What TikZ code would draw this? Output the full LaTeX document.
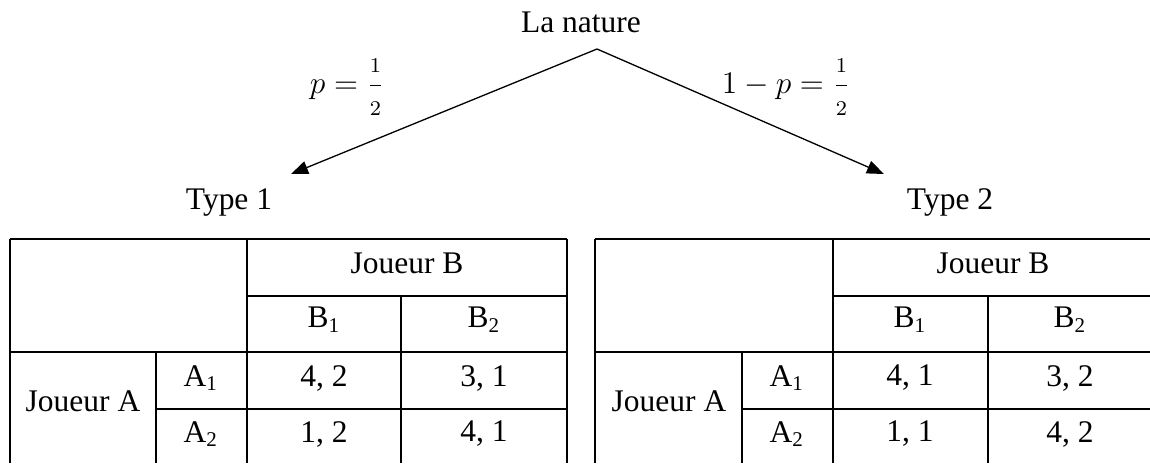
\documentclass[tikz,border=0pt]{standalone}
\usepackage{fontspec}
\setmainfont{Liberation Serif}
\usetikzlibrary{arrows.meta}

\begin{document}
\begin{tikzpicture}[
x=0.0134cm,y=-0.0134cm,
font=\fontsize{12}{14}\selectfont,
grid/.style={line width=0.75pt},
branch/.style={line width=0.5pt,-{Triangle[length=6.5pt,width=5pt]}},
cell/.style={inner sep=0pt,anchor=center}
]

\useasboundingbox (0,0) rectangle (1150,463);

%%%%%%%%%%%%%%%%%%%%%%%%%%%%%%%%%%%%%%%%%%%%%%%%%%%%%%
% NATURE
%%%%%%%%%%%%%%%%%%%%%%%%%%%%%%%%%%%%%%%%%%%%%%%%%%%%%%

\node[cell](nature) at (581,22) {La nature};

\coordinate (apex) at (597,49);
\coordinate (tipone) at (291,174);
\coordinate (tiptwo) at (884,174);

\node[cell](probone) at (347,87)
{$p={\displaystyle\frac{\scriptstyle 1}{\scriptstyle 2}}$};
\node[cell](probtwo) at (786,87)
{$1-p={\displaystyle\frac{\scriptstyle 1}{\scriptstyle 2}}$};

\node[cell](typeone) at (229,202) {Type 1};
\node[cell](typetwo) at (950,202) {Type 2};

%%%%%%%%%%%%%%%%%%%%%%%%%%%%%%%%%%%%%%%%%%%%%%%%%%%%%%
% BRANCHES
%%%%%%%%%%%%%%%%%%%%%%%%%%%%%%%%%%%%%%%%%%%%%%%%%%%%%%

\draw[branch] (apex)--(tipone);

\draw[branch] (apex)--(tiptwo);

%%%%%%%%%%%%%%%%%%%%%%%%%%%%%%%%%%%%%%%%%%%%%%%%%%%%%%
% TABLE TYPE 1
%%%%%%%%%%%%%%%%%%%%%%%%%%%%%%%%%%%%%%%%%%%%%%%%%%%%%%

\draw[grid] (10,239)--(567,239);
\draw[grid] (247,296)--(567,296);
\draw[grid] (10,352)--(567,352);
\draw[grid] (156,409)--(567,409);
\draw[grid] (10,239)--(10,463);
\draw[grid] (156,352)--(156,463);
\draw[grid] (247,239)--(247,463);
\draw[grid] (401,296)--(401,463);
\draw[grid] (567,239)--(567,463);

\node[cell](oneB) at (407,263) {Joueur B};
\node[cell](oneBa) at (324,320) {B\textsubscript{1}};
\node[cell](oneBb) at (484,320) {B\textsubscript{2}};
\node[cell](oneA) at (83,401) {Joueur A};
\node[cell](oneAa) at (201,378) {A\textsubscript{1}};
\node[cell](oneAb) at (201,434) {A\textsubscript{2}};
\node[cell](oneaa) at (324,378) {4, 2};
\node[cell](oneab) at (484,378) {3, 1};
\node[cell](oneba) at (324,434) {1, 2};
\node[cell](onebb) at (484,434) {4, 1};

%%%%%%%%%%%%%%%%%%%%%%%%%%%%%%%%%%%%%%%%%%%%%%%%%%%%%%
% TABLE TYPE 2
%%%%%%%%%%%%%%%%%%%%%%%%%%%%%%%%%%%%%%%%%%%%%%%%%%%%%%

\draw[grid] (595,239)--(1150,239);
\draw[grid] (833,296)--(1150,296);
\draw[grid] (595,352)--(1150,352);
\draw[grid] (742,409)--(1150,409);
\draw[grid] (595,239)--(595,463);
\draw[grid] (742,352)--(742,463);
\draw[grid] (833,239)--(833,463);
\draw[grid] (988,296)--(988,463);

\node[cell](twoB) at (993,263) {Joueur B};
\node[cell](twoBa) at (910,320) {B\textsubscript{1}};
\node[cell](twoBb) at (1070,320) {B\textsubscript{2}};
\node[cell](twoA) at (669,401) {Joueur A};
\node[cell](twoAa) at (787,378) {A\textsubscript{1}};
\node[cell](twoAb) at (787,434) {A\textsubscript{2}};
\node[cell](twoaa) at (910,378) {4, 1};
\node[cell](twoab) at (1070,378) {3, 2};
\node[cell](twoba) at (910,434) {1, 1};
\node[cell](twobb) at (1070,434) {4, 2};

\end{tikzpicture}
\end{document}
